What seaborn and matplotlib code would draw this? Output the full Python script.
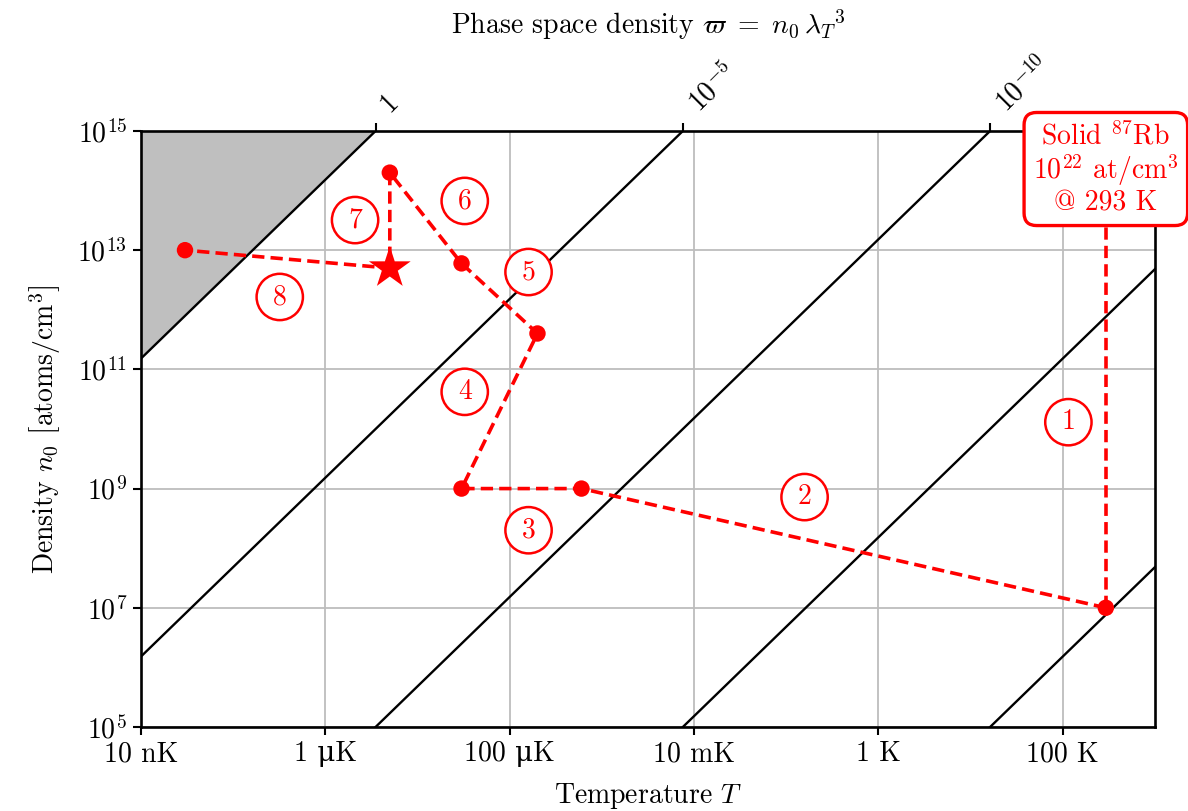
import numpy as np
import pandas as pd
import matplotlib
matplotlib.use("Agg")
import matplotlib.pyplot as plt
import seaborn as sns

# ---------------- data ----------------
# temperature tick positions (K) and labels
t_ticks = [1e-8, 1e-6, 1e-4, 1e-2, 1e0, 1e2]
t_labels = ["10 nK", "1 \u03bcK", "100 \u03bcK", "10 mK", "1 K", "100 K"]
n_ticks = [1e5, 1e7, 1e9, 1e11, 1e13, 1e15]
n_labels = [r"$10^{5}$", r"$10^{7}$", r"$10^{9}$", r"$10^{11}$", r"$10^{13}$", r"$10^{15}$"]

# phase-space density iso-lines
psd_levels = [1e0, 1e-5, 1e-10, 1e-15, 1e-20]
psd_top_levels = [1e0, 1e-5, 1e-10]
psd_top_labels = ["1", r"$10^{-5}$", r"$10^{-10}$"]

# experimental path (T in K, n in atoms/cm^3)
path_T = [293, 6e-4, 3e-5, 2e-4, 3e-5, 5e-6, 5e-6, 3e-8]
path_n = [1e7, 1e9, 1e9, 4e11, 6e12, 2e14, 5e12, 1e13]
dot_T = [293, 6e-4, 3e-5, 2e-4, 3e-5, 5e-6, 3e-8]
dot_n = [1e7, 1e9, 1e9, 4e11, 6e12, 2e14, 1e13]
star_T = [5e-6]
star_n = [5e12]

# step labels and their positions
step_labels = ["1", "2", "3", "4", "5", "6", "7", "8"]
step_T = [1.15e2, 1.58e-1, 1.6e-4, 3.25e-5, 1.6e-4, 3.25e-5, 2.1e-6, 3.2e-7]
step_n = [1.3e10, 7.2e8, 2.0e8, 4.2e10, 4.3e12, 6.7e13, 3.2e13, 1.64e12]

solid_text = "Solid $^{87}$Rb\n$10^{22}$ at/cm$^3$\n@ 293 K"
solid_T = 293
solid_n = 2.3e14

# ---------------- physics ----------------
h = 6.62607e-34
kB = 1.380649e-23
m = 86.909 * 1.66054e-27


def lam(T):
    return h / np.sqrt(2 * np.pi * m * kB * T)


def n_of(T, psd):
    return psd / lam(T) ** 3 / 1e6  # atoms / cm^3


def T_of(n, psd):
    lam_v = (psd / (n * 1e6)) ** (1 / 3)
    return h ** 2 / (2 * np.pi * m * kB * lam_v ** 2)


# ---------------- style ----------------
sns.set_style("white")
plt.rcParams["font.family"] = ["cmr10", "DejaVu Serif"]
plt.rcParams["mathtext.fontset"] = "cm"
plt.rcParams["axes.formatter.use_mathtext"] = True
plt.rcParams["axes.unicode_minus"] = False
plt.rcParams["text.color"] = "black"
plt.rcParams["axes.labelcolor"] = "black"
plt.rcParams["xtick.color"] = "black"
plt.rcParams["ytick.color"] = "black"
FS = 20
DASH = (3.4, 1.7)

fig = plt.figure(figsize=(11.88, 8.11), dpi=100)
ax = fig.add_axes([0.1187, 0.1036, 0.8535, 0.7349])
ax.set_xscale("log")
ax.set_yscale("log")
xlim = (1e-8, 1e3)
ylim = (1e5, 1e15)

# grid
ax.grid(True, which="major", color="#bdbdbd", lw=1.3, zorder=0)

# gray region psd > 1
Tg = np.logspace(-10, 0, 400)
ax.fill_between(Tg, n_of(Tg, 1.0), 1e17, color="#bfbfbf", lw=0, zorder=1)

# iso lines
Tl = np.logspace(-10, 5, 400)
for p in psd_levels:
    df = pd.DataFrame({"T": Tl, "n": n_of(Tl, p)})
    sns.lineplot(data=df, x="T", y="n", ax=ax, color="black", lw=1.7,
                 sort=False, estimator=None, zorder=2)

# path
dfp = pd.DataFrame({"T": path_T, "n": path_n})
sns.lineplot(data=dfp, x="T", y="n", ax=ax, color="red", lw=2.6,
             sort=False, estimator=None, zorder=4)
ax.lines[-1].set_dashes(DASH)
# vertical line from solid box to first point
dfv = pd.DataFrame({"T": [solid_T, solid_T], "n": [path_n[0], solid_n]})
sns.lineplot(data=dfv, x="T", y="n", ax=ax, color="red", lw=2.6,
             sort=False, estimator=None, zorder=4)
ax.lines[-1].set_dashes(DASH)

sns.scatterplot(x=dot_T, y=dot_n, ax=ax, color="red", s=140,
                edgecolor="none", zorder=5)
sns.scatterplot(x=star_T, y=star_n, ax=ax, color="red", marker="*", s=1000,
                edgecolor="none", zorder=5)

for lab, tx, ny in zip(step_labels, step_T, step_n):
    ax.text(tx, ny, lab, color="red", fontsize=FS, ha="center", va="center",
            zorder=6,
            bbox=dict(boxstyle="circle,pad=0.36", fc="white", ec="red", lw=1.8))

ax.text(solid_T, solid_n, solid_text, color="red", fontsize=FS, ha="center",
        va="center", zorder=7, clip_on=False, linespacing=1.1,
        bbox=dict(boxstyle="round,pad=0.32,rounding_size=0.45", fc="white",
                  ec="red", lw=2.4))

ax.set_xlim(*xlim)
ax.set_ylim(*ylim)
ax.set_xticks(t_ticks)
ax.set_xticklabels(t_labels, fontsize=FS)
ax.set_yticks(n_ticks)
ax.set_yticklabels(n_labels, fontsize=FS)
ax.minorticks_off()
ax.tick_params(axis="both", direction="out", length=6, width=1.5,
               bottom=True, left=True, pad=4)
for s in ax.spines.values():
    s.set_linewidth(1.9)
    s.set_color("black")
ax.set_xlabel(r"Temperature $T$", fontsize=FS, labelpad=10)
ax.set_ylabel(r"Density $n_0$ $\left[\mathrm{atoms/cm}^{3}\right]$",
              fontsize=FS, labelpad=10)

# top axis with psd
ax2 = ax.twiny()
ax2.set_xscale("log")
ax2.set_xlim(*xlim)
top_pos = [T_of(ylim[1], p) for p in psd_top_levels]
ax2.set_xticks(top_pos)
ax2.set_xticklabels(psd_top_labels, fontsize=FS, rotation=45, ha="left",
                    va="bottom", rotation_mode="default")
ax2.minorticks_off()
ax2.tick_params(axis="x", direction="out", length=6, width=1.5, top=True,
                pad=4, colors="black")
ax2.grid(False)
for s in ax2.spines.values():
    s.set_visible(False)
ax2.set_xlabel(r"Phase space density $\varpi\ =\ n_0\,{\lambda_T}^3$",
               fontsize=FS, labelpad=12)

fig.savefig("out.png", dpi=100)
